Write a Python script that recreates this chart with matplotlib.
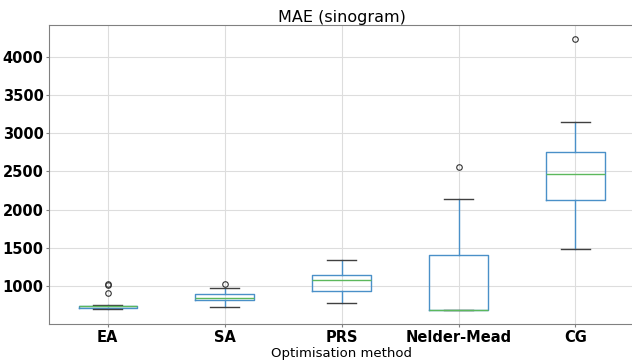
import matplotlib
matplotlib.use("Agg")
import matplotlib.pyplot as plt

methods = ["EA", "SA", "PRS", "Nelder-Mead", "CG"]
lower_whisker = [700, 730, 778, 687, 1483]
q1 = [713, 813, 931, 687, 2131]
median = [733, 840, 1074, 690, 2470]
q3 = [743, 900, 1143, 1413, 2757]
upper_whisker = [748, 970, 1335, 2135, 3143]
outliers = [[1017, 1022, 915], [1022], [], [2556], [4231]]

stats = []
for i, name in enumerate(methods):
    stats.append({
        "label": name,
        "whislo": lower_whisker[i],
        "q1": q1[i],
        "med": median[i],
        "q3": q3[i],
        "whishi": upper_whisker[i],
        "fliers": outliers[i],
    })

fig = plt.figure(figsize=(6.32, 3.62), dpi=100)
ax = fig.add_axes([0.078, 0.105, 0.925, 0.826])

ax.bxp(stats, showfliers=True,
       boxprops=dict(color="#4a90c8", linewidth=1),
       whiskerprops=dict(color="#4a90c8", linewidth=1),
       medianprops=dict(color="#5cb85c", linewidth=1),
       capprops=dict(color="#404040", linewidth=1),
       flierprops=dict(marker="o", markersize=4, markerfacecolor="none",
                       markeredgecolor="#333333", markeredgewidth=0.8))

ax.grid(True, color="#dddddd", linewidth=0.8)
ax.set_axisbelow(True)
for sp in ax.spines.values():
    sp.set_color("#808080")
ax.tick_params(axis="both", length=2, width=0.8, color="#808080", pad=2)
ax.set_ylim(504, 4417)
ax.set_yticks([1000, 1500, 2000, 2500, 3000, 3500, 4000])
ax.set_title("MAE (sinogram)", fontsize=11.5, pad=2)
ax.set_xlabel("Optimisation method", fontsize=9.5, labelpad=2)
for lab in ax.get_xticklabels() + ax.get_yticklabels():
    lab.set_fontsize(10.5)
    lab.set_fontweight("bold")

fig.savefig("out.png", dpi=100)
